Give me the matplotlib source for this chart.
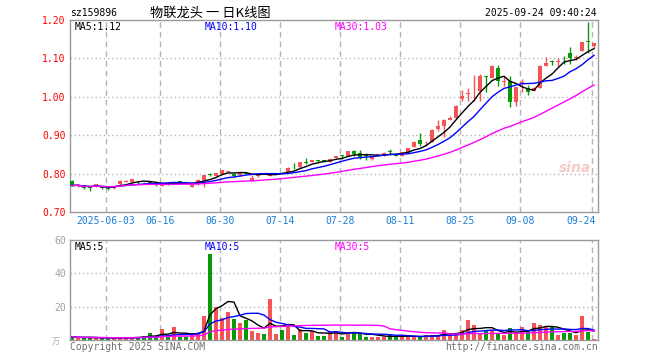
import numpy as np
import pandas as pd
import matplotlib
matplotlib.use('Agg')
from matplotlib import pyplot as plt

# ---- data ----
code = 'sz159896'
title = '物联龙头 一 日K线图'
stamp = '2025-09-24 09:40:24'

opens = [0.781, 0.768, 0.770, 0.764, 0.768, 0.767, 0.762, 0.762, 0.772, 0.779,
         0.778, 0.779, 0.778, 0.778, 0.772, 0.769, 0.773, 0.774, 0.779, 0.777,
         0.766, 0.772, 0.784, 0.798, 0.794, 0.798, 0.804, 0.800, 0.796, 0.801,
         0.781, 0.793, 0.801, 0.795, 0.799, 0.804, 0.804, 0.817, 0.816, 0.828,
         0.830, 0.834, 0.834, 0.831, 0.841, 0.848, 0.847, 0.859, 0.853, 0.846,
         0.837, 0.846, 0.847, 0.857, 0.848, 0.846, 0.854, 0.869, 0.888, 0.881,
         0.882, 0.915, 0.923, 0.940, 0.945, 0.993, 1.007, 1.014, 1.015, 1.054,
         1.050, 1.074, 1.039, 1.040, 0.986, 1.036, 1.023, 1.015, 1.024, 1.081,
         1.092, 1.090, 1.101, 1.114, 1.100, 1.120, 1.143, 1.132]
highs = [0.783, 0.772, 0.771, 0.766, 0.773, 0.769, 0.764, 0.768, 0.783, 0.784,
         0.787, 0.781, 0.779, 0.779, 0.773, 0.772, 0.775, 0.779, 0.780, 0.778,
         0.772, 0.785, 0.797, 0.802, 0.802, 0.810, 0.808, 0.801, 0.804, 0.802,
         0.797, 0.801, 0.802, 0.799, 0.802, 0.805, 0.816, 0.828, 0.831, 0.841,
         0.836, 0.835, 0.835, 0.840, 0.847, 0.848, 0.859, 0.862, 0.861, 0.853,
         0.847, 0.851, 0.856, 0.864, 0.849, 0.857, 0.867, 0.884, 0.905, 0.885,
         0.915, 0.940, 0.941, 0.950, 0.978, 1.017, 1.022, 1.056, 1.059, 1.055,
         1.082, 1.082, 1.053, 1.053, 1.026, 1.046, 1.030, 1.025, 1.082, 1.103,
         1.096, 1.100, 1.105, 1.129, 1.108, 1.143, 1.196, 1.140]
lows = [0.767, 0.764, 0.760, 0.755, 0.766, 0.761, 0.757, 0.761, 0.771, 0.777,
        0.777, 0.773, 0.775, 0.774, 0.768, 0.768, 0.770, 0.773, 0.776, 0.773,
        0.765, 0.771, 0.765, 0.793, 0.793, 0.797, 0.803, 0.792, 0.795, 0.798,
        0.780, 0.792, 0.798, 0.794, 0.798, 0.801, 0.803, 0.813, 0.815, 0.826,
        0.829, 0.831, 0.831, 0.830, 0.840, 0.837, 0.846, 0.846, 0.838, 0.836,
        0.835, 0.845, 0.846, 0.849, 0.845, 0.845, 0.853, 0.868, 0.872, 0.872,
        0.881, 0.912, 0.895, 0.939, 0.944, 0.990, 0.989, 0.989, 0.989, 1.012,
        1.049, 1.028, 1.028, 0.973, 0.975, 1.012, 1.005, 1.014, 1.023, 1.079,
        1.082, 1.079, 1.085, 1.086, 1.097, 1.119, 1.115, 1.127]
closes = [0.769, 0.770, 0.763, 0.763, 0.772, 0.763, 0.761, 0.767, 0.782, 0.781,
          0.786, 0.777, 0.777, 0.776, 0.771, 0.771, 0.772, 0.778, 0.778, 0.775,
          0.771, 0.784, 0.796, 0.797, 0.801, 0.809, 0.806, 0.795, 0.803, 0.800,
          0.789, 0.800, 0.800, 0.797, 0.801, 0.803, 0.815, 0.816, 0.830, 0.827,
          0.835, 0.833, 0.833, 0.839, 0.846, 0.847, 0.858, 0.852, 0.844, 0.845,
          0.846, 0.850, 0.854, 0.856, 0.846, 0.856, 0.866, 0.883, 0.876, 0.883,
          0.914, 0.923, 0.940, 0.946, 0.977, 1.003, 1.009, 1.016, 1.053, 1.052,
          1.081, 1.041, 1.041, 0.986, 1.025, 1.038, 1.012, 1.024, 1.081, 1.088,
          1.091, 1.092, 1.100, 1.101, 1.103, 1.142, 1.142, 1.139]
volume = [2.0, 1.2, 1.5, 1.5, 1.2, 1.2, 1.2, 1.2, 1.5, 1.5, 1.5, 1.8,
          2.4, 4.0, 2.4, 6.6, 2.0, 7.8, 2.0, 2.0, 4.0, 4.0,
          14.4, 51.6, 19.6, 13.2, 16.8, 12.6, 10.4, 12.2, 5.4, 4.2,
          3.6, 24.6, 3.6, 6.0, 8.4, 3.0, 6.6, 4.2, 5.4, 2.4,
          2.4, 5.6, 5.6, 2.0, 4.8, 4.6, 4.0, 2.0, 2.0, 2.0,
          2.0, 2.8, 2.4, 2.0, 2.0, 2.0, 2.0, 3.0, 3.0, 3.0,
          6.0, 3.6, 3.6, 6.0, 12.0, 9.0, 4.0, 6.0, 6.0, 3.6,
          3.0, 7.2, 3.6, 7.8, 5.4, 10.2, 9.0, 8.4, 7.6, 3.0,
          4.4, 4.0, 2.8, 14.4, 5.0, 0.8]

date_ticks = ['2025-06-03', '2025-06-16', '2025-06-30', '2025-07-14', '2025-07-28',
              '2025-08-11', '2025-08-25', '2025-09-08', '2025-09-24']
date_labels = ['2025-06-03', '06-16', '06-30', '07-14', '07-28',
               '08-11', '08-25', '09-08', '09-24']
price_ticks = [0.70, 0.80, 0.90, 1.00, 1.10, 1.20]
vol_ticks = [20, 40, 60]
ma_text = ['MA5:1.12', 'MA10:1.10', 'MA30:1.03']
vol_ma_text = ['MA5:5', 'MA10:5', 'MA30:5']

# trading days (Dragon Boat holiday on 06-02)
days = pd.bdate_range('2025-05-23', '2025-09-24')
days = days[days != pd.Timestamp('2025-06-02')]
day_str = [d.strftime('%Y-%m-%d') for d in days]

# ---- styling ----
UP = '#f65454'
DOWN = '#079a07'
MA_COLORS = ['black', '#0000ff', '#ff00ff']
GRID = '#b4b4b4'
FRAME = '#9a9a9a'
MONO = 'DejaVu Sans Mono'
plt.rcParams['font.family'] = [MONO, 'Noto Sans CJK SC']

o = np.array(opens); h = np.array(highs); l = np.array(lows); c = np.array(closes)
v = np.array(volume)
x = np.arange(len(c))
up = c >= o
col = np.where(up, UP, DOWN)

fig = plt.figure(figsize=(6.6, 3.6), dpi=100)
W, H = 660., 360.
ax = fig.add_axes([70 / W, 1 - 212 / H, 528 / W, 192 / H])
axv = fig.add_axes([70 / W, 1 - 340 / H, 528 / W, 100 / H])

xlo, xhi = -1 / 3., len(c) - 1 / 3.
tick_idx = [day_str.index(d) - 1 / 3. for d in date_ticks]

for a in (ax, axv):
    a.set_xlim(xlo, xhi)
    a.set_xticks([])
    for s in a.spines.values():
        s.set_color(FRAME)
        s.set_linewidth(1)
    for t in tick_idx:
        a.axvline(t, color=GRID, lw=1, ls=(0, (4, 3)), zorder=0)
    a.tick_params(axis='y', length=0, labelsize=7, pad=3)

# price panel
ax.set_ylim(0.70, 1.20)
ax.set_yticks(price_ticks)
ax.set_yticklabels(['%.2f' % p for p in price_ticks], color='red')
for p in price_ticks[1:-1]:
    ax.axhline(p, color=GRID, lw=1, ls=(0, (1, 2)), zorder=0)

ax.vlines(x, l, h, colors=col, lw=1, zorder=2)
body = np.maximum(np.abs(c - o), 0.0022)
ax.bar(x, body, bottom=np.minimum(o, c), width=0.72, color=col, lw=0, zorder=3)

cs = pd.Series(c)
for n, colr in zip([5, 10, 30], MA_COLORS):
    ax.plot(x, cs.rolling(n, min_periods=1).mean(), color=colr, lw=1, zorder=4)

ax.text(0.956, 0.23, 'sina', transform=ax.transAxes, color='#f7c9c9',
        fontsize=10, fontweight='bold', style='italic', family='DejaVu Sans',
        ha='center', va='center', zorder=1)

for t, lab in zip(tick_idx, date_labels):
    ha = 'right' if lab == date_labels[-1] else 'center'
    ax.text(t + (0.7 if ha == 'right' else 0), -0.022, lab,
            transform=ax.get_xaxis_transform(), ha=ha, va='top',
            color='#1a7dd6', fontsize=7)

# volume panel
axv.set_ylim(0, 60)
axv.set_yticks(vol_ticks)
axv.set_yticklabels([str(t) for t in vol_ticks], color='#a0a0a0')
for t in vol_ticks[:-1]:
    axv.axhline(t, color=GRID, lw=1, ls=(0, (1, 2)), zorder=0)
axv.bar(x, v, width=0.78, color=col, lw=0, zorder=2)
vs = pd.Series(v)
for n, colr in zip([5, 10, 30], MA_COLORS):
    axv.plot(x, vs.rolling(n, min_periods=1).mean(), color=colr, lw=1, zorder=3)

# header / labels
fig.text(70 / W, 1 - 13 / H, code, fontsize=7, va='center', ha='left')
fig.text(150 / W, 1 - 13 / H, title, fontsize=9.5, va='center', ha='left',
         family=['Noto Sans CJK SC', 'DejaVu Sans'])
fig.text(597 / W, 1 - 13 / H, stamp, fontsize=7, va='center', ha='right')
for xs, txt, colr in zip([75, 205, 335], ma_text, MA_COLORS):
    fig.text(xs / W, 1 - 27 / H, txt, fontsize=7, color=colr, va='center')
for xs, txt, colr in zip([75, 205, 335], vol_ma_text, MA_COLORS):
    fig.text(xs / W, 1 - 247 / H, txt, fontsize=7, color=colr, va='center')
fig.text(52 / W, 1 - 341 / H, '万', fontsize=6, color='#b0b0b0', va='center',
         family=['Noto Sans CJK SC', 'DejaVu Sans'])
fig.text(70 / W, 1 - 347 / H, 'Copyright 2025 SINA.COM', fontsize=7,
         color='#707070', va='center')
fig.text(598 / W, 1 - 347 / H, 'http://finance.sina.com.cn', fontsize=7,
         color='#707070', va='center', ha='right')

fig.savefig('out.png', dpi=100, facecolor='white')
